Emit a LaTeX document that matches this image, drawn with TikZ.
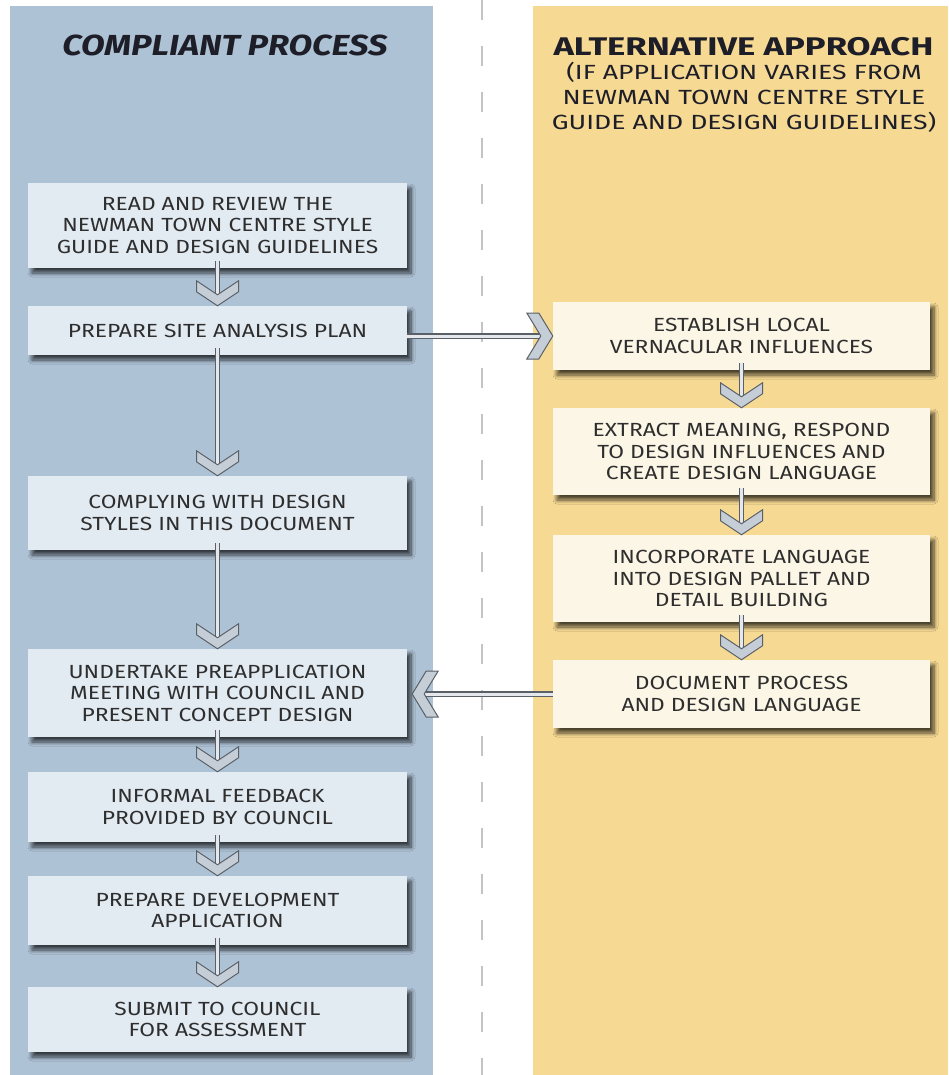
\documentclass[tikz,border=0pt]{standalone}
\usepackage{fontspec}
\setmainfont{Fira Sans}
\newfontfamily\hand[FakeStretch=1.20]{Fira Sans}
\newfontfamily\handsub[FakeStretch=1.30]{Fira Sans}
\newfontfamily\handtitle[FakeStretch=1.19]{Fira Sans}
\newfontfamily\handtitleb[FakeStretch=1.36]{Fira Sans}
\usetikzlibrary{shadows.blur}
\definecolor{panelblue}{HTML}{AEC2D5}
\definecolor{panelyellow}{HTML}{F6D993}
\definecolor{boxblue}{HTML}{E2EAF2}
\definecolor{boxyellow}{HTML}{FCF6E6}
\definecolor{txt}{HTML}{2E2E2E}
\definecolor{titletxt}{HTML}{1E1E28}
\definecolor{dashgray}{HTML}{C4C4C4}
\definecolor{arrline}{HTML}{5A6068}
\definecolor{shaftin}{HTML}{E4E8EC}
\definecolor{chevfill}{HTML}{C5CDD7}
\tikzset{
  boxbase/.style={draw=none, align=center, text=txt,
    font=\hand\fontsize{19}{21.5}\selectfont, inner sep=0pt,
    blur shadow={shadow xshift=4pt, shadow yshift=-5pt, shadow blur radius=4pt, shadow blur steps=8, shadow opacity=70}},
  leftbox/.style={boxbase, fill=boxblue, minimum width=379pt},
  rightbox/.style={boxbase, fill=boxyellow, minimum width=377pt},
  shaft/.style={draw=arrline, line width=1.3pt, double=shaftin, double distance=3pt},
  chev/.style={fill=chevfill, draw=arrline, line width=1pt, line join=miter},
  chevdown/.pic={\path[chev] (-21,-25) -- (-21,-14) -- (0,0) -- (21,-14) -- (21,-25) -- (0,-11) -- cycle;},
  chevright/.pic={\path[chev] (-26,-23) -- (-14,-23) -- (0,0) -- (-14,23) -- (-26,23) -- (-12,0) -- cycle;},
  chevleft/.pic={\path[chev] (26,-23) -- (14,-23) -- (0,0) -- (14,23) -- (26,23) -- (12,0) -- cycle;},
  dashline/.style={draw=dashgray, line width=1.6pt, dash pattern=on 20pt off 26pt},
  titlestyle/.style={text=titletxt, inner sep=0pt}
}
\begin{document}
\begin{tikzpicture}[x=1pt,y=-1pt]
\useasboundingbox (0,0) rectangle (948,1075);
% panels
\fill[panelblue] (10,6) rectangle (433,1075);
\fill[panelyellow] (533,6) rectangle (948,1075);
\draw[dashline] (482,0) -- (482,1075);
% titles
\node[titlestyle, font=\handtitle\bfseries\itshape\fontsize{29}{32}\selectfont] (tl) at (225,45) {COMPLIANT PROCESS};
\node[titlestyle, font=\handtitleb\bfseries\fontsize{25.5}{28}\selectfont] (tr) at (743.5,47) {ALTERNATIVE APPROACH};
\node[titlestyle, align=center, font=\handsub\fontsize{20.5}{25}\selectfont] (trs) at (744,97) {(IF APPLICATION VARIES FROM\\NEWMAN TOWN CENTRE STYLE\\GUIDE AND DESIGN GUIDELINES)};
% left boxes
\node[leftbox, minimum height=85pt] (b1) at (217.5,225.5) {READ AND REVIEW THE\\NEWMAN TOWN CENTRE STYLE\\GUIDE AND DESIGN GUIDELINES};
\node[leftbox, minimum height=49pt] (b2) at (217.5,330.5) {PREPARE SITE ANALYSIS PLAN};
\node[leftbox, minimum height=74pt] (b3) at (217.5,513) {COMPLYING WITH DESIGN\\STYLES IN THIS DOCUMENT};
\node[leftbox, minimum height=88pt] (b4) at (217.5,693) {UNDERTAKE PREAPPLICATION\\MEETING WITH COUNCIL AND\\PRESENT CONCEPT DESIGN};
\node[leftbox, minimum height=70pt] (b5) at (217.5,807) {INFORMAL FEEDBACK\\PROVIDED BY COUNCIL};
\node[leftbox, minimum height=69pt] (b6) at (217.5,910.5) {PREPARE DEVELOPMENT\\APPLICATION};
\node[leftbox, minimum height=65pt] (b7) at (217.5,1019.5) {SUBMIT TO COUNCIL\\FOR ASSESSMENT};
% right boxes
\node[rightbox, minimum height=68pt] (r1) at (741.5,336) {ESTABLISH LOCAL\\VERNACULAR INFLUENCES};
\node[rightbox, minimum height=87pt] (r2) at (741.5,451.5) {EXTRACT MEANING, RESPOND\\TO DESIGN INFLUENCES AND\\CREATE DESIGN LANGUAGE};
\node[rightbox, minimum height=87pt] (r3) at (741.5,578.5) {INCORPORATE LANGUAGE\\INTO DESIGN PALLET AND\\DETAIL BUILDING};
\node[rightbox, minimum height=68pt] (r4) at (741.5,694) {DOCUMENT PROCESS\\AND DESIGN LANGUAGE};
% vertical arrows
\foreach \a/\b in {b1/b2,b2/b3,b3/b4,b4/b5,b5/b6,b6/b7,r1/r2,r2/r3,r3/r4}{
  \draw[shaft] ([yshift=7pt]\a.south) -- ([yshift=5pt]\b.north);
  \pic at (\b.north) {chevdown};
}
% horizontal arrows
\draw[shaft] (b2.east |- r1.west) -- ([xshift=-5pt]r1.west);
\pic at (r1.west) {chevright};
\coordinate (b4r) at ([xshift=5pt]b4.east |- r4.west);
\draw[shaft] (r4.west) -- ([xshift=5pt]b4r);
\pic at (b4r) {chevleft};
\end{tikzpicture}
\end{document}
